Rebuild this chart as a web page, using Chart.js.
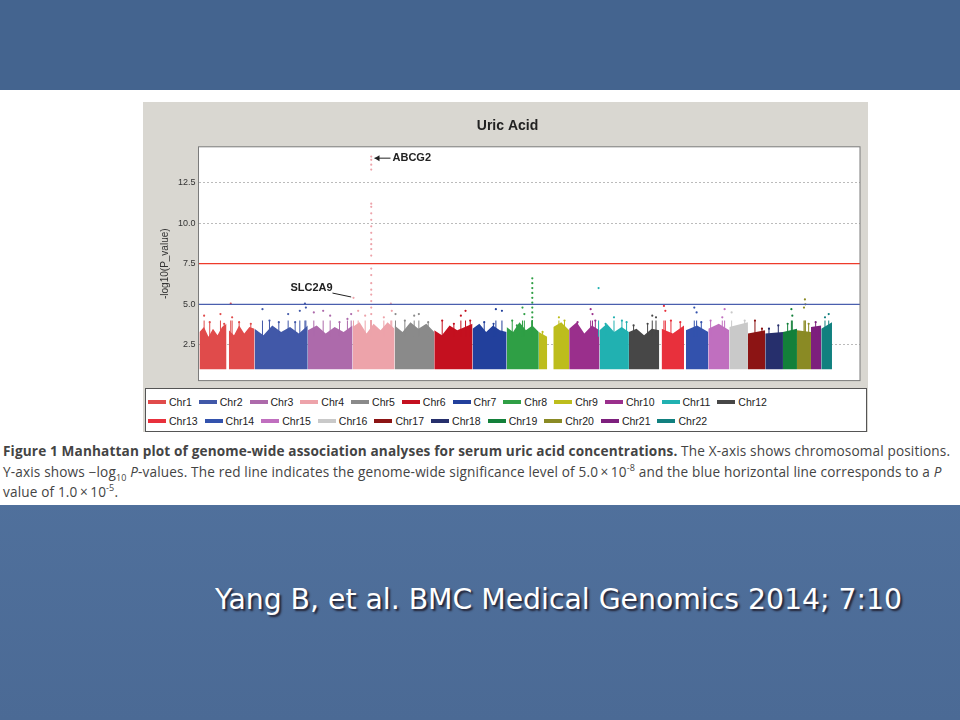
<!DOCTYPE html>
<html>
<head>
<meta charset="utf-8">
<script src="https://cdn.jsdelivr.net/npm/chart.js@4"></script>
<style>
  body { margin:0; width:960px; height:720px; overflow:hidden; position:relative;
    background: linear-gradient(180deg,#4a6b98 0%,#51729e 60%,#4b6a95 100%); font-family:"Liberation Sans",Arial,sans-serif; }
  #topband { position:absolute; left:0; top:0; width:960px; height:90px; background:#44648f; }
  #white { position:absolute; left:0; top:90px; width:960px; height:415px; background:#fff; }
  #panel { position:absolute; left:143px; top:102px; width:725px; height:330px; background:#d9d7d1; }
  #wrap { position:absolute; left:143px; top:102px; width:725px; height:287px; }
  #legend { position:absolute; left:145px; top:388px; width:722px; height:44px; background:#fff; border:1px solid #555; box-sizing:border-box;
    font-size:10.5px; color:#222; padding:3px 2px; }
  #legend div { display:flex; gap:7px; height:19px; align-items:center; }
  #legend span { display:inline-flex; align-items:center; }
  #legend i { display:inline-block; width:18px; height:4px; margin-right:3px; }
  #caption { position:absolute; left:3px; top:441px; width:952px; font-size:13.6px; line-height:20.5px; color:#444; font-family:"Open Sans",sans-serif; letter-spacing:0.15px; }
  #cite { position:absolute; left:215px; top:583px; font-family:"DejaVu Sans",sans-serif; font-size:28.3px; color:#fff; text-shadow:2px 2px 2px #223; }
</style>
</head>
<body>
<div id="topband"></div>
<div id="white"></div>
<div id="panel"></div>
<div id="wrap"><canvas id="c"></canvas></div>
<div id="legend"><div id="l1"></div><div id="l2"></div></div>
<div id="caption"><b>Figure 1 Manhattan plot of genome-wide association analyses for serum uric acid concentrations.</b> The X-axis shows chromosomal positions. Y-axis shows &minus;log<sub style="font-size:9px;line-height:0">10</sub> <i>P</i>-values. The red line indicates the genome-wide significance level of 5.0&thinsp;&times;&thinsp;10<sup style="font-size:9px;line-height:0">-8</sup> and the blue horizontal line corresponds to a <i>P</i> value of 1.0&thinsp;&times;&thinsp;10<sup style="font-size:9px;line-height:0">-5</sup>.</div>
<div id="cite">Yang B, et al. BMC Medical Genomics 2014; 7:10</div>
<script>
const chromNames = ['Chr1','Chr2','Chr3','Chr4','Chr5','Chr6','Chr7','Chr8','Chr9','Chr10','Chr11','Chr12',
  'Chr13','Chr14','Chr15','Chr16','Chr17','Chr18','Chr19','Chr20','Chr21','Chr22'];
const chromColors = ['#e04b4b','#4158a8','#ad6aab','#eda3aa','#8a8a8a','#c4101f','#22409c','#2f9f45','#bdbd1c','#9a2f8c','#21b1b1','#474747',
  '#e8303c','#3352ad','#c06fbf','#c9c9c9','#8c1414','#262f6c','#13803a','#8a8a24','#7d1f7d','#11807f'];

// dense region per block: chromosome index, start, end (genome position units), top outline
const blockChrom = [0,0,1,2,3,4,5,6,7,8,8,9,10,11,12,13,14,15,16,17,18,19,20,21];
const blockStart = [130,193,248,362,458,548,633,715,788,857,888,922,987,1050,1120,1172,1220,1265,1305,1342,1380,1410,1440,1462];
const blockEnd   = [188,248,362,458,548,633,715,788,857,875,922,987,1050,1115,1168,1220,1265,1305,1342,1380,1410,1440,1462,1485];
const blockTops = [
  [3.3,3.6,3.0,3.5,3.1,3.6,3.8],[3.4,3.1,3.7,3.2,3.6,3.5],[3.5,3.1,3.7,3.3,3.6,3.2,3.7],[3.4,3.7,3.2,3.6,3.3,3.7],
  [3.6,3.9,3.2,3.8,3.4,3.9,3.5],[3.7,3.3,3.9,3.5,3.8,3.3],[3.4,3.1,3.7,3.4,3.6,3.8],[3.5,3.8,3.3,3.7,3.4,3.3],
  [3.6,3.3,3.9,3.4,3.7,3.3],[3.3,3.0],[3.6,3.9,3.4],[3.5,3.9,3.2,3.7,3.4],[3.4,3.8,3.3,3.6,3.3],[3.3,3.5,3.1,3.5,3.4],
  [3.5,3.2,3.7],[3.4,3.7,3.3],[3.5,3.8,3.4],[3.6,3.9],[3.2,3.4],[3.2,3.3],[3.3,3.5],[3.4,3.3],[3.6,3.7],[3.5,3.9]
];
// scattered SNPs above the dense region: [position, -log10 p]
const chromPeaks = [
  [[140,4.3],[152,3.9],[175,4.4],[183,3.8],[197,5.05],[200,4.2],[215,3.9],[240,3.8]],
  [[265,4.7],[280,4.0],[300,3.9],[320,4.4],[345,4.6],[356,5.05],[358,4.8],[335,3.9]],
  [[375,4.5],[395,4.6],[410,4.3],[430,3.9],[447,4.1],[455,4.4]],
  [[460,5.4],[470,4.6],[485,4.3],[498,14.1],[498,13.9],[498,13.6],[498,13.3],[498,11.2],[498,11.0],[498,10.6],[498,10.2],[498,9.8],
   [498,9.4],[498,9.0],[498,8.7],[498,8.4],[498,8.0],[498,7.2],[498,6.8],[498,6.3],[498,5.9],[498,5.6],[498,5.2],[498,4.8],[498,4.4],[525,4.2],[540,5.05],[542,4.6]],
  [[550,4.4],[570,4.0],[590,4.3],[600,4.4],[620,3.9]],
  [[650,4.0],[675,3.8],[690,4.3],[700,4.6],[710,4.0]],
  [[740,3.9],[760,3.8],[765,4.7],[778,4.6]],
  [[800,4.0],[810,3.7],[822,4.8],[826,4.4],[843,6.6],[843,6.3],[843,6.0],[843,5.7],[843,5.4],[843,5.1],[843,4.8],[843,4.5],[843,4.2]],
  [[865,3.3],[900,4.2],[905,3.7],[912,4.0]],
  [[940,3.9],[968,4.7],[972,4.4],[978,4.0]],
  [[985,6.0],[1000,3.8],[1018,4.2],[1035,4.0],[1045,3.9]],
  [[1060,3.7],[1090,3.8],[1100,4.3],[1108,4.2]],
  [[1125,4.9],[1128,4.6],[1140,4.0],[1160,3.9]],
  [[1190,4.8],[1195,4.5],[1205,3.9]],
  [[1225,4.0],[1250,4.2],[1255,4.7]],
  [[1270,4.5],[1298,4.0]],
  [[1320,4.0],[1335,3.5]],
  [[1350,3.5],[1370,3.7]],
  [[1390,3.8],[1398,4.7],[1400,4.3]],
  [[1425,4.8],[1427,5.3],[1428,5.0],[1435,3.8]],
  [[1450,3.9],[1458,3.6]],
  [[1470,4.2],[1478,4.4]]
];
const redLine = 7.5, blueLine = 5.0;
const yTicks = [2.5,5.0,7.5,10.0,12.5];
const floorValue = 1.0;

const datasets = [];
blockStart.forEach((s, b) => {
  const tops = blockTops[b], e = blockEnd[b];
  const pts = tops.map((t, i) => ({x: s + (e - s) * i / (tops.length - 1), y: t}));
  datasets.push({data: pts, borderWidth: 0, pointRadius: 0, backgroundColor: chromColors[blockChrom[b]],
    fill: {value: floorValue}, tension: 0, order: 3});
});
chromPeaks.forEach((pk, c) => {
  datasets.push({data: pk.map(p => ({x: p[0], y: p[1]})), showLine: false, pointRadius: 1.1, pointBorderWidth: 0,
    pointBackgroundColor: chromColors[c], order: 2});
  pk.forEach(p => datasets.push({data: [{x: p[0], y: 3}, {x: p[0], y: Math.min(p[1], 4)}], borderColor: chromColors[c],
    borderWidth: 1, pointRadius: 0, order: 2}));
});
datasets.push({data: [{x: 128, y: redLine}, {x: 1545, y: redLine}], borderColor: '#ee3b2b', borderWidth: 1.3, pointRadius: 0, order: 1});
datasets.push({data: [{x: 128, y: blueLine}, {x: 1545, y: blueLine}], borderColor: '#4a5fae', borderWidth: 1.3, pointRadius: 0, order: 1});

const annotate = {
  id: 'annotate',
  afterDraw(chart) {
    const {ctx, chartArea: a, scales: {x, y}} = chart;
    ctx.save();
    ctx.strokeStyle = '#7a7a7a'; ctx.lineWidth = 1;
    ctx.strokeRect(a.left, a.top, a.right - a.left, a.bottom - a.top);
    ctx.fillStyle = '#222'; ctx.strokeStyle = '#222';
    ctx.font = 'bold 11px "Liberation Sans"';
    const ax = x.getPixelForValue(505), ay = y.getPixelForValue(14.0);
    ctx.beginPath(); ctx.moveTo(ax, ay); ctx.lineTo(ax + 16, ay); ctx.stroke();
    ctx.beginPath(); ctx.moveTo(ax, ay); ctx.lineTo(ax + 5, ay - 3); ctx.lineTo(ax + 5, ay + 3); ctx.fill();
    ctx.textBaseline = 'middle';
    ctx.fillText('ABCG2', ax + 18, ay);
    const sx = x.getPixelForValue(325), sy = y.getPixelForValue(6.0);
    ctx.fillText('SLC2A9', sx, sy);
    const tx = x.getPixelForValue(455), ty = y.getPixelForValue(5.45);
    ctx.beginPath(); ctx.moveTo(sx + 42, sy + 5); ctx.lineTo(tx, ty); ctx.stroke();
    ctx.restore();
  }
};
const plotBg = {
  id: 'plotBg',
  beforeDraw(chart) {
    const {ctx, chartArea: a} = chart;
    ctx.save(); ctx.fillStyle = '#fff'; ctx.fillRect(a.left, a.top, a.right - a.left, a.bottom - a.top); ctx.restore();
  }
};

new Chart(document.getElementById('c'), {
  type: 'line',
  data: {datasets},
  plugins: [plotBg, annotate],
  options: {
    responsive: true, maintainAspectRatio: false, animation: false,
    layout: {padding: {left: 12, right: 8, top: 0, bottom: 5}},
    plugins: {legend: {display: false}, tooltip: {enabled: false},
      title: {display: true, text: 'Uric Acid', color: '#222', font: {family: 'Liberation Sans', size: 14, weight: 'bold'}, padding: {top: 16, bottom: 12}}},
    scales: {
      x: {type: 'linear', min: 128, max: 1545, display: false},
      y: {min: 0.3, max: 14.7, afterBuildTicks: s => { s.ticks = yTicks.map(v => ({value: v})); },
        ticks: {callback: v => v.toFixed(1), color: '#333', font: {size: 9}},
        grid: {color: '#bbb', lineWidth: 1, drawTicks: false, tickLength: 0},
        border: {display: false, dash: [2, 2]},
        title: {display: true, text: '-log10(P_value)', color: '#333', font: {size: 10}}}
    }
  }
});

function legendRow(el, from, to) {
  for (let i = from; i < to; i++) {
    const sp = document.createElement('span');
    sp.innerHTML = '<i style="background:' + chromColors[i] + '"></i>' + chromNames[i];
    el.appendChild(sp);
  }
}
legendRow(document.getElementById('l1'), 0, 12);
legendRow(document.getElementById('l2'), 12, 22);
</script>
</body>
</html>
